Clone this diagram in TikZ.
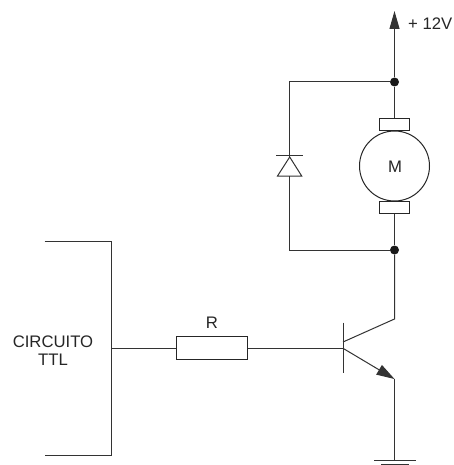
\documentclass[tikz,border=0pt]{standalone}
\usepackage{fontspec}
\setmainfont{Liberation Sans}
\usetikzlibrary{arrows.meta}
\tikzset{
  wire/.style={draw=black!80,line width=1pt},
  part/.style={draw=black!85,line width=1pt,fill=white,minimum width=0pt,minimum height=0pt,inner sep=0pt},
  label/.style={font=\fontsize{16.7}{18}\selectfont,text=black!85,inner sep=0pt,align=center},
  joint/.style={circle,fill=black!90,inner sep=0pt,minimum size=9pt}
}
\begin{document}
\begin{tikzpicture}[x=1pt,y=-1pt]
\useasboundingbox (0,0) rectangle (453,465);
% coordinates
\coordinate (tip) at (394.5,11);
\node[joint] (top) at (394.5,82) {};
\node[joint] (bot) at (394.5,250) {};
\coordinate (tl) at (289.7,82);
\coordinate (bl) at (289.7,250);
% motor
\node[part,circle,minimum size=70pt] (motor) at (394.5,166) {};
\node[part,minimum width=30pt,minimum height=12.5pt] (bu) at (394.5,124.5) {};
\node[part,minimum width=30pt,minimum height=12.5pt] (bd) at (394.5,207.7) {};
\node[label] (m) at (395,167) {M};
\draw[wire] (top) -- (bu);
\draw[wire] (bd) -- (bot);
% supply
\draw[wire,-{Triangle[length=18pt,width=10pt]}] (top) -- (tip);
\node[label,anchor=west] (vcc) at (408,24) {+ 12V};
% diode
\coordinate (da) at (289.7,157);
\coordinate (db) at (289.7,176);
\coordinate (dl) at (277.5,176);
\coordinate (dr) at (301.7,176);
\coordinate (bl1) at (276,156);
\coordinate (br1) at (302.7,156);
\draw[wire] (top) -- (tl) -- (da);
\draw[wire] (db) -- (bl) -- (bot);
\draw[wire] (bl1) -- (br1);
\draw[wire,line join=miter] (da) -- (dr) -- (dl) -- cycle;
% TTL block
\coordinate (b1) at (44.5,241.7);
\coordinate (b2) at (111.7,241.7);
\coordinate (b3) at (111.7,455);
\coordinate (b4) at (44.5,455);
\coordinate (out) at (111.7,348.3);
\draw[wire] (b1) -- (b2) -- (b3) -- (b4);
\node[label] (ttl) at (53,351) {CIRCUITO\\TTL};
% resistor
\node[part,minimum width=71.4pt,minimum height=23.3pt] (r) at (212,348.3) {};
\node[label] (rl) at (212,323) {R};
% transistor
\coordinate (b) at (343,348.3);
\coordinate (bt) at (343,322.7);
\coordinate (bb) at (343,373.3);
\coordinate (c0) at (343,342);
\coordinate (c1) at (394.5,319);
\coordinate (e0) at (343,348.3);
\coordinate (e1) at (394.5,379);
\draw[wire] (out) -- (r);
\draw[wire] (r) -- (b);
\draw[wire] (bt) -- (bb);
\draw[wire] (c0) -- (c1) -- (bot);
\draw[wire,-{Triangle[length=18pt,width=11pt]}] (e0) -- (e1);
% ground
\coordinate (g) at (394.5,460);
\coordinate (g1) at (374,460);
\coordinate (g2) at (416,460);
\coordinate (g3) at (381,464.5);
\coordinate (g4) at (409,464.5);
\draw[wire] (e1) -- (g);
\draw[wire] (g1) -- (g2);
\draw[wire] (g3) -- (g4);
\end{tikzpicture}
\end{document}
